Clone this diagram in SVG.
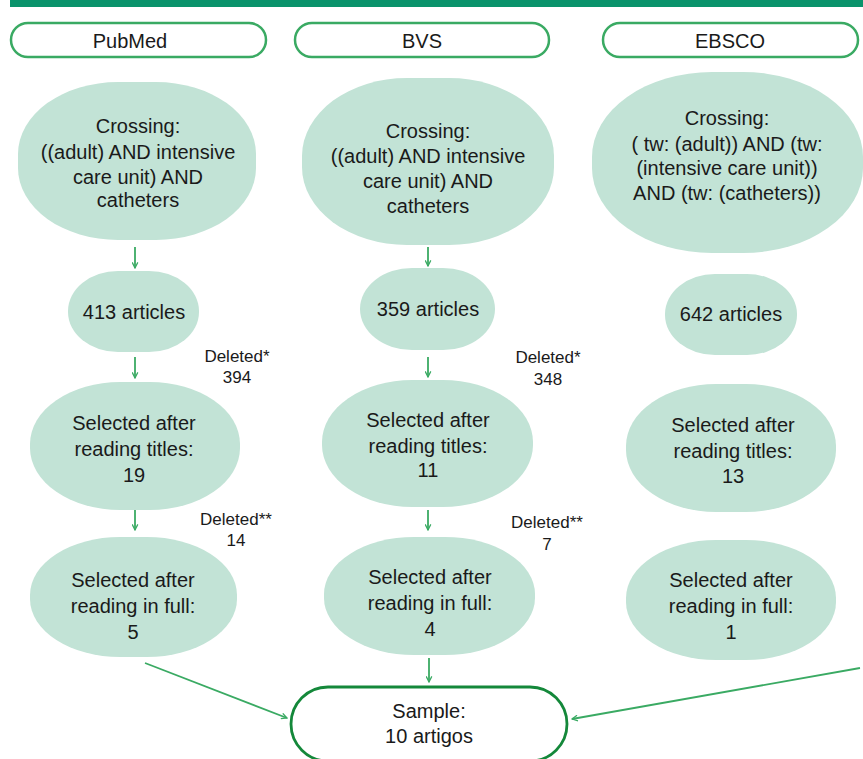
<svg xmlns="http://www.w3.org/2000/svg" width="863" height="759" viewBox="0 0 863 759">
<style>
.t{font-family:"Liberation Sans",Arial,sans-serif;font-size:20px;fill:#1a1a1a;text-anchor:middle}
.s{font-family:"Liberation Sans",Arial,sans-serif;font-size:17px;fill:#1a1a1a;text-anchor:middle}
.blob{fill:#c2e3d6}
.pill{fill:#fff;stroke:#3aaa63;stroke-width:2.5}
.arr{stroke:#3aaa63;stroke-width:1.8;fill:none;marker-end:url(#ah)}
</style>
<defs>
<marker id="ah" viewBox="0 0 10 10" refX="9" refY="5" markerWidth="7" markerHeight="7" orient="auto" markerUnits="userSpaceOnUse">
<polyline points="1,1 9,5 1,9" fill="none" stroke="#3aaa63" stroke-width="1.8"/>
</marker>
</defs>
<rect x="10" y="0" width="853" height="7" fill="#0a936b"/>
<g id="pubmed"><rect class="pill" x="11" y="23" width="255" height="34" rx="17"/><text class="t" x="130" y="48">PubMed</text></g>
<g id="bvs"><rect class="pill" x="295" y="23" width="254" height="34" rx="17"/><text class="t" x="422" y="48">BVS</text></g>
<g id="ebsco"><rect class="pill" x="603" y="23" width="255" height="34" rx="17"/><text class="t" x="730" y="48">EBSCO</text></g>

<g id="pm-cross"><rect class="blob" x="18" y="82" width="238" height="158" rx="100" ry="72"/>
<text class="t"><tspan x="138" y="133">Crossing:</tspan><tspan x="138" y="159">((adult) AND intensive</tspan><tspan x="138" y="184">care unit) AND</tspan><tspan x="138" y="207">catheters</tspan></text></g>
<g id="bvs-cross"><rect class="blob" x="302" y="78" width="252" height="167" rx="105" ry="78"/>
<text class="t"><tspan x="428" y="138">Crossing:</tspan><tspan x="428" y="163">((adult) AND intensive</tspan><tspan x="428" y="188">care unit) AND</tspan><tspan x="428" y="213">catheters</tspan></text></g>
<g id="eb-cross"><rect class="blob" x="592" y="72" width="271" height="181" rx="120" ry="85"/>
<text class="t"><tspan x="727" y="125">Crossing:</tspan><tspan x="727" y="151">( tw: (adult)) AND (tw:</tspan><tspan x="727" y="175">(intensive care unit))</tspan><tspan x="727" y="200">AND (tw: (catheters))</tspan></text></g>

<g id="pm-art"><rect class="blob" x="68" y="271" width="131" height="81" rx="50" ry="40"/><text class="t" x="134" y="319">413 articles</text></g>
<g id="bvs-art"><rect class="blob" x="360" y="268" width="135" height="82" rx="52" ry="41"/><text class="t" x="428" y="316">359 articles</text></g>
<g id="eb-art"><rect class="blob" x="665" y="274" width="132" height="81" rx="50" ry="40"/><text class="t" x="731" y="321">642 articles</text></g>

<g id="pm-title"><rect class="blob" x="30" y="382" width="210" height="128" rx="90" ry="62"/>
<text class="t"><tspan x="134" y="430">Selected after</tspan><tspan x="134" y="456">reading titles:</tspan><tspan x="134" y="482">19</tspan></text></g>
<g id="bvs-title"><rect class="blob" x="322" y="380" width="211" height="127" rx="90" ry="62"/>
<text class="t"><tspan x="428" y="427">Selected after</tspan><tspan x="428" y="453">reading titles:</tspan><tspan x="428" y="477">11</tspan></text></g>
<g id="eb-title"><rect class="blob" x="626" y="384" width="210" height="128" rx="90" ry="62"/>
<text class="t"><tspan x="733" y="432">Selected after</tspan><tspan x="733" y="458">reading titles:</tspan><tspan x="733" y="483">13</tspan></text></g>

<g id="pm-full"><rect class="blob" x="30" y="537" width="207" height="120" rx="90" ry="58"/>
<text class="t"><tspan x="133" y="587">Selected after</tspan><tspan x="133" y="613">reading in full:</tspan><tspan x="133" y="639">5</tspan></text></g>
<g id="bvs-full"><rect class="blob" x="324" y="537" width="211" height="118" rx="90" ry="57"/>
<text class="t"><tspan x="430" y="584">Selected after</tspan><tspan x="430" y="610">reading in full:</tspan><tspan x="430" y="636">4</tspan></text></g>
<g id="eb-full"><rect class="blob" x="626" y="540" width="210" height="120" rx="90" ry="58"/>
<text class="t"><tspan x="731" y="587">Selected after</tspan><tspan x="731" y="613">reading in full:</tspan><tspan x="731" y="639">1</tspan></text></g>

<g id="sample"><rect x="291" y="687" width="276" height="74" rx="37" fill="#fff" stroke="#14883a" stroke-width="2.8"/>
<text class="t"><tspan x="429" y="718">Sample:</tspan><tspan x="429" y="743">10 artigos</tspan></text></g>

<g id="labels">
<text class="s"><tspan x="237" y="362">Deleted*</tspan><tspan x="237" y="383">394</tspan></text>
<text class="s"><tspan x="548" y="363">Deleted*</tspan><tspan x="548" y="385">348</tspan></text>
<text class="s"><tspan x="236" y="525">Deleted**</tspan><tspan x="236" y="546">14</tspan></text>
<text class="s"><tspan x="547" y="528">Deleted**</tspan><tspan x="547" y="550">7</tspan></text>
</g>

<g id="connectors">
<line class="arr" x1="135" y1="247" x2="135" y2="268"/>
<line class="arr" x1="135" y1="357" x2="135" y2="378"/>
<line class="arr" x1="135" y1="510" x2="135" y2="530"/>
<line class="arr" x1="428" y1="247" x2="428" y2="266"/>
<line class="arr" x1="428" y1="357" x2="428" y2="377"/>
<line class="arr" x1="428" y1="510" x2="428" y2="530"/>
<line class="arr" x1="429" y1="658" x2="429" y2="682"/>
<line class="arr" x1="145" y1="663" x2="287" y2="718"/>
<line class="arr" x1="860" y1="668" x2="572" y2="719"/>
</g>
</svg>
